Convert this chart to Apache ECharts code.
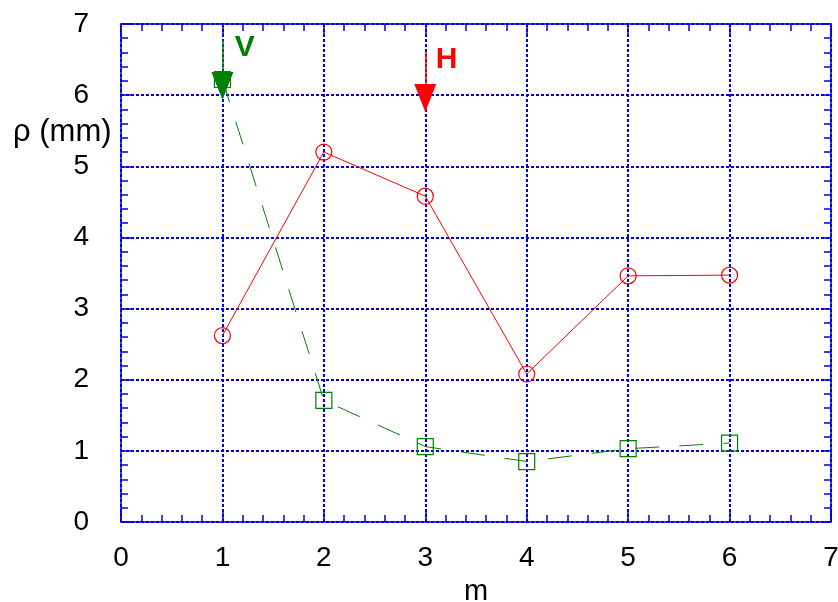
<!DOCTYPE html>
<html>
<head>
<meta charset="utf-8">
<script src="https://cdn.jsdelivr.net/npm/echarts@6/dist/echarts.min.js"></script>
<style>
  html, body { margin: 0; padding: 0; background: #fff; }
</style>
</head>
<body>
<div id="chart" style="width: 838px; height: 602px"></div>
<script>
// data
const mValues = [1, 2, 3, 4, 5, 6];
const rhoH = [2.62, 5.2, 4.58, 2.08, 3.46, 3.47];
const rhoV = [6.22, 1.71, 1.06, 0.85, 1.03, 1.11];
const axisTicks = [0, 1, 2, 3, 4, 5, 6, 7];

// arrows: [x, shaft top, triangle centre]
const arrowV = [1, 6.78, 6.13];
const arrowH = [3, 6.61, 5.96];
const labelV = [1.22, 6.67];
const labelH = [3.21, 6.5];

const blue = "#0000e0";
const red = "#ff0000";
const green = "#008000";
const font = "Liberation Sans, Arial, sans-serif";

const chart = echarts.init(document.getElementById("chart"));

function axisCommon(showLabel) {
  return {
    type: "value",
    min: axisTicks[0],
    max: axisTicks[axisTicks.length - 1],
    interval: 1,
    axisLine: { show: true, onZero: false, lineStyle: { color: blue, width: 1.5 } },
    axisTick: { show: true, inside: true, length: 10, lineStyle: { color: blue, width: 1.5 } },
    minorTick: { show: true, splitNumber: 5, length: 7, lineStyle: { color: blue, width: 1.5 } },
    axisLabel: { show: showLabel, color: "#000", fontSize: 28, fontFamily: font },
    splitLine: { show: false },
  };
}

const xBottom = axisCommon(true);
xBottom.position = "bottom";
xBottom.axisLabel.margin = 22;
xBottom.name = "m";
xBottom.nameLocation = "middle";
xBottom.nameGap = 55;
xBottom.nameTextStyle = { color: "#000", fontSize: 29, fontFamily: font };
xBottom.splitLine = {
  show: true,
  lineStyle: { color: blue, width: 2, type: [3, 2] },
};

const xTop = axisCommon(false);
xTop.position = "top";

const yLeft = axisCommon(true);
yLeft.position = "left";
yLeft.axisLabel.margin = 32;
yLeft.splitLine = {
  show: true,
  lineStyle: { color: blue, width: 2, type: [3, 2] },
};

const yRight = axisCommon(false);
yRight.position = "right";

function arrowLine(a, color) {
  return {
    silent: true,
    symbol: ["none", "triangle"],
    symbolSize: [22, 28],
    label: { show: false },
    lineStyle: { color: color, width: 1.5, type: "solid" },
    itemStyle: { color: color },
    data: [[{ coord: [a[0], a[1]] }, { coord: [a[0], a[2]] }]],
  };
}

function letter(text, pos, color) {
  return {
    silent: true,
    symbol: "circle",
    symbolSize: 0,
    label: {
      show: true,
      position: "inside",
      formatter: text,
      color: color,
      fontSize: 30,
      fontWeight: "bold",
      fontFamily: font,
    },
    data: [{ coord: pos }],
  };
}

const option = {
  animation: false,
  grid: { left: 121, right: 7, top: 24, bottom: 80, outerBoundsMode: "none" },
  xAxis: [xBottom, xTop],
  yAxis: [yLeft, yRight],
  graphic: [
    {
      type: "text",
      left: 13,
      top: 117,
      style: { text: "ρ (mm)", fill: "#000", fontSize: 31, fontFamily: font },
    },
  ],
  series: [
    {
      name: "H",
      type: "line",
      data: mValues.map((m, i) => [m, rhoH[i]]),
      symbol: "circle",
      symbolSize: 16,
      itemStyle: { color: "rgba(0,0,0,0)", borderColor: red, borderWidth: 1.2 },
      lineStyle: { color: red, width: 1 },
      markLine: arrowLine(arrowH, red),
      markPoint: letter("H", labelH, red),
      z: 3,
    },
    {
      name: "V",
      type: "line",
      data: mValues.map((m, i) => [m, rhoV[i]]),
      symbol: "rect",
      symbolSize: 16,
      itemStyle: { color: "rgba(0,0,0,0)", borderColor: green, borderWidth: 1.2 },
      lineStyle: { color: green, width: 1, type: [24, 20] },
      markLine: arrowLine(arrowV, green),
      markPoint: letter("V", labelV, green),
      z: 3,
    },
  ],
};

chart.setOption(option);
</script>
</body>
</html>
